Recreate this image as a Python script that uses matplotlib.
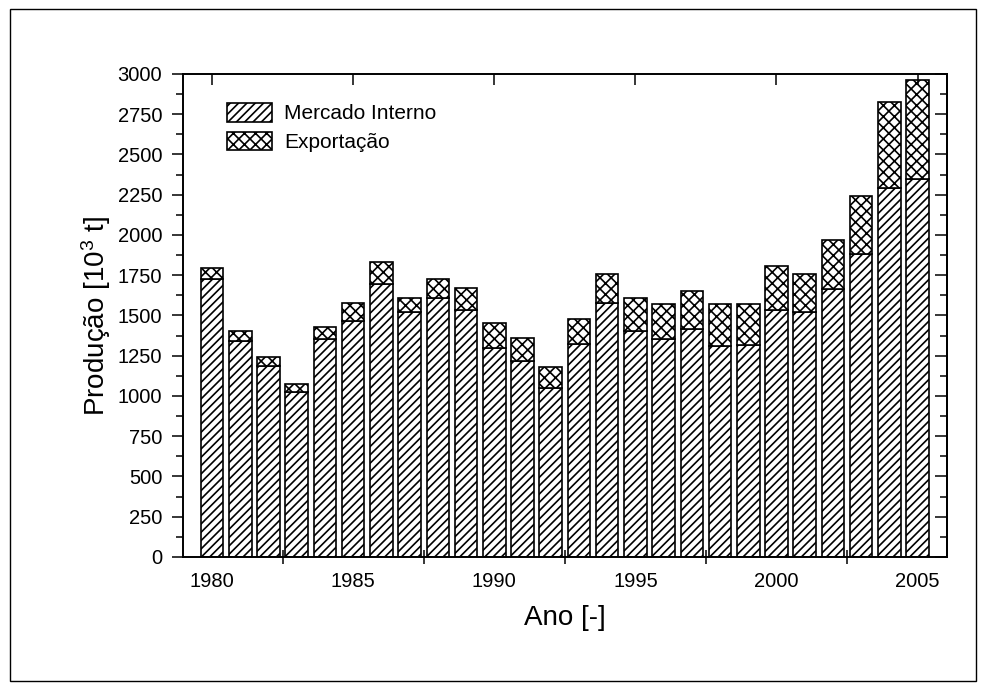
import matplotlib
matplotlib.use('Agg')
import matplotlib.pyplot as plt
from matplotlib.patches import Rectangle
from matplotlib.ticker import MultipleLocator, FixedLocator
import numpy as np

plt.rcParams['font.family'] = ['Liberation Sans', 'DejaVu Sans']
plt.rcParams['mathtext.fontset'] = 'custom'
plt.rcParams['mathtext.rm'] = 'Liberation Sans'
plt.rcParams['mathtext.it'] = 'Liberation Sans'
plt.rcParams['hatch.linewidth'] = 1.2

# dados (10^3 t)
anos = list(range(1980, 2006))
mercado_interno = [1725, 1344, 1186, 1025, 1352, 1466, 1694, 1524, 1607, 1532,
                   1300, 1217, 1050, 1323, 1576, 1406, 1352, 1418, 1313, 1319,
                   1534, 1520, 1665, 1882, 2294, 2348]
exportacao = [72, 58, 58, 52, 79, 114, 136, 83, 118, 137,
              152, 145, 130, 157, 184, 201, 219, 236, 257, 254,
              275, 238, 302, 362, 534, 617]
rotulos_x = [1980, 1985, 1990, 1995, 2000, 2005]
ticks_x = [1982.5, 1987.5, 1992.5, 1997.5, 2002.5]

fig = plt.figure(figsize=(9.86, 6.89), dpi=100)
ax = fig.add_axes([0.1856, 0.1916, 0.7748, 0.7010])

ax.bar(anos, mercado_interno, width=0.8, color='white', edgecolor='black',
       linewidth=1.2, hatch='////', label='Mercado Interno')
ax.bar(anos, exportacao, width=0.8, bottom=mercado_interno, color='white',
       edgecolor='black', linewidth=1.2, hatch='xxx', label='Exportação')

ax.set_xlim(1978.97, 2006.04)
ax.set_ylim(0, 3000)

# eixo x: rotulos nos anos, tracos entre eles
ax.xaxis.set_major_locator(FixedLocator(rotulos_x))
ax.xaxis.set_minor_locator(FixedLocator(ticks_x))
ax.tick_params(axis='x', which='major', bottom=False, top=True, labelbottom=True,
               direction='in', length=8, width=1.1, labelsize=14.5, pad=11)
ax.tick_params(axis='x', which='minor', bottom=True, top=False,
               direction='inout', length=9.5, width=1.1)

# eixo y
ax.yaxis.set_major_locator(MultipleLocator(250))
ax.yaxis.set_minor_locator(MultipleLocator(125))
ax.tick_params(axis='y', which='major', direction='out', length=8, width=1.1,
               labelsize=14.5, pad=7)
ax.tick_params(axis='y', which='minor', direction='out', length=5, width=1.1)

sec = ax.secondary_yaxis('right')
sec.yaxis.set_major_locator(MultipleLocator(250))
sec.yaxis.set_minor_locator(MultipleLocator(125))
sec.tick_params(which='major', direction='in', length=8.5, width=1.1, labelright=False)
sec.tick_params(which='minor', direction='in', length=5, width=1.1)
sec.spines['right'].set_linewidth(1.4)

for s in ax.spines.values():
    s.set_linewidth(1.4)

ax.set_xlabel('Ano [-]', fontsize=20, labelpad=10)
ax.set_ylabel('Produção [10$^3$ t]', fontsize=20, labelpad=3)

ax.legend(loc='upper left', bbox_to_anchor=(0.057, 0.94), frameon=False,
          fontsize=15, handlelength=2.2, handleheight=1.0, handletextpad=0.55,
          labelspacing=0.4, borderaxespad=0, borderpad=0)

# moldura externa
fig.patches.append(Rectangle((0.0101, 0.0116), 0.9797, 0.9754, transform=fig.transFigure,
                             fill=False, edgecolor='black', linewidth=1.0))

fig.savefig('out.png', dpi=100)
